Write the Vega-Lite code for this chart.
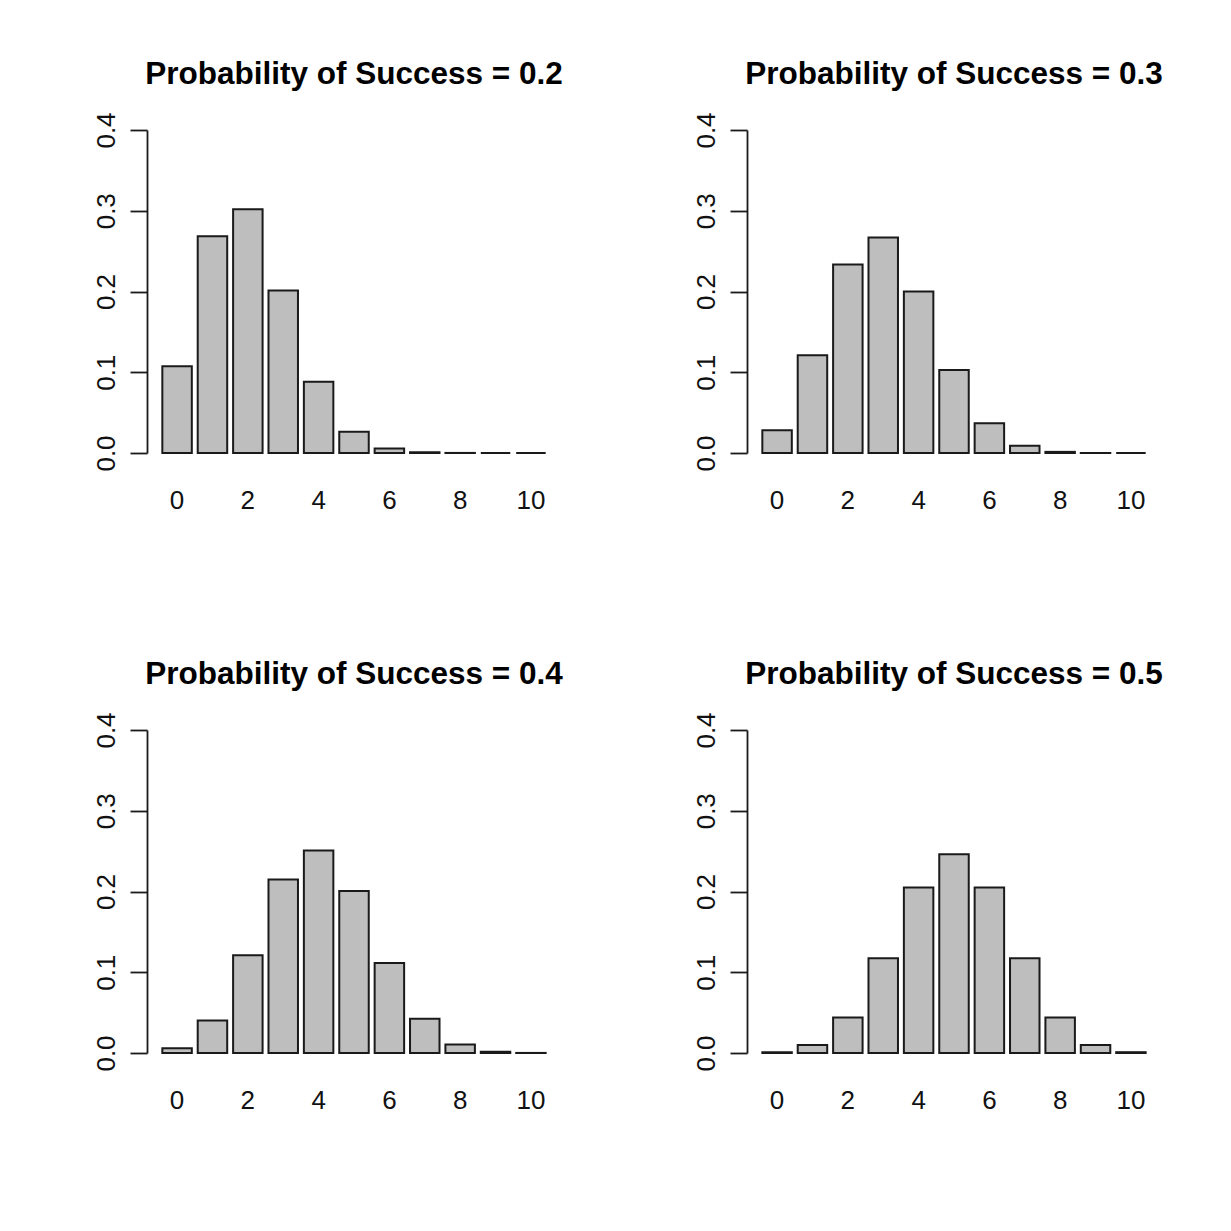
{
  "$schema": "https://vega.github.io/schema/vega-lite/v6.json",
  "background": "white",
  "padding": {"left": 92, "top": 59, "right": 10, "bottom": 10},
  "data": {"values": [
    {"title": "Probability of Success = 0.2", "k": 0, "prob": 0.1074},
    {"title": "Probability of Success = 0.2", "k": 1, "prob": 0.2684},
    {"title": "Probability of Success = 0.2", "k": 2, "prob": 0.3020},
    {"title": "Probability of Success = 0.2", "k": 3, "prob": 0.2013},
    {"title": "Probability of Success = 0.2", "k": 4, "prob": 0.0881},
    {"title": "Probability of Success = 0.2", "k": 5, "prob": 0.0264},
    {"title": "Probability of Success = 0.2", "k": 6, "prob": 0.0055},
    {"title": "Probability of Success = 0.2", "k": 7, "prob": 0.0008},
    {"title": "Probability of Success = 0.2", "k": 8, "prob": 0.0001},
    {"title": "Probability of Success = 0.2", "k": 9, "prob": 0.0},
    {"title": "Probability of Success = 0.2", "k": 10, "prob": 0.0},
    {"title": "Probability of Success = 0.3", "k": 0, "prob": 0.0282},
    {"title": "Probability of Success = 0.3", "k": 1, "prob": 0.1211},
    {"title": "Probability of Success = 0.3", "k": 2, "prob": 0.2335},
    {"title": "Probability of Success = 0.3", "k": 3, "prob": 0.2668},
    {"title": "Probability of Success = 0.3", "k": 4, "prob": 0.2001},
    {"title": "Probability of Success = 0.3", "k": 5, "prob": 0.1029},
    {"title": "Probability of Success = 0.3", "k": 6, "prob": 0.0368},
    {"title": "Probability of Success = 0.3", "k": 7, "prob": 0.0090},
    {"title": "Probability of Success = 0.3", "k": 8, "prob": 0.0014},
    {"title": "Probability of Success = 0.3", "k": 9, "prob": 0.0001},
    {"title": "Probability of Success = 0.3", "k": 10, "prob": 0.0},
    {"title": "Probability of Success = 0.4", "k": 0, "prob": 0.0060},
    {"title": "Probability of Success = 0.4", "k": 1, "prob": 0.0403},
    {"title": "Probability of Success = 0.4", "k": 2, "prob": 0.1209},
    {"title": "Probability of Success = 0.4", "k": 3, "prob": 0.2150},
    {"title": "Probability of Success = 0.4", "k": 4, "prob": 0.2508},
    {"title": "Probability of Success = 0.4", "k": 5, "prob": 0.2007},
    {"title": "Probability of Success = 0.4", "k": 6, "prob": 0.1115},
    {"title": "Probability of Success = 0.4", "k": 7, "prob": 0.0425},
    {"title": "Probability of Success = 0.4", "k": 8, "prob": 0.0106},
    {"title": "Probability of Success = 0.4", "k": 9, "prob": 0.0016},
    {"title": "Probability of Success = 0.4", "k": 10, "prob": 0.0001},
    {"title": "Probability of Success = 0.5", "k": 0, "prob": 0.0010},
    {"title": "Probability of Success = 0.5", "k": 1, "prob": 0.0098},
    {"title": "Probability of Success = 0.5", "k": 2, "prob": 0.0439},
    {"title": "Probability of Success = 0.5", "k": 3, "prob": 0.1172},
    {"title": "Probability of Success = 0.5", "k": 4, "prob": 0.2051},
    {"title": "Probability of Success = 0.5", "k": 5, "prob": 0.2461},
    {"title": "Probability of Success = 0.5", "k": 6, "prob": 0.2051},
    {"title": "Probability of Success = 0.5", "k": 7, "prob": 0.1172},
    {"title": "Probability of Success = 0.5", "k": 8, "prob": 0.0439},
    {"title": "Probability of Success = 0.5", "k": 9, "prob": 0.0098},
    {"title": "Probability of Success = 0.5", "k": 10, "prob": 0.0010}
  ]},
  "facet": {
    "field": "title",
    "type": "nominal",
    "header": {
      "title": null,
      "labelFont": "Liberation Sans",
      "labelFontSize": 31.5,
      "labelFontWeight": "bold",
      "labelColor": "black",
      "labelPadding": 21
    }
  },
  "columns": 2,
  "spacing": {"column": 186, "row": 277},
  "bounds": "flush",
  "resolve": {"axis": {"x": "independent", "y": "independent"}},
  "spec": {
    "width": 414,
    "height": 323,
    "mark": {"type": "bar", "fill": "#bebebe", "stroke": "#1a1a1a", "strokeWidth": 2},
    "encoding": {
      "x": {
        "field": "k",
        "type": "ordinal",
        "scale": {"paddingInner": 0.1667, "paddingOuter": 0.4333},
        "axis": {
          "title": null,
          "ticks": false,
          "domain": false,
          "labelAngle": 0,
          "labelExpr": "datum.value % 2 == 0 ? datum.label : ''",
          "labelFont": "Liberation Sans",
          "labelFontSize": 26,
          "labelColor": "#111111",
          "labelBaseline": "middle",
          "labelPadding": 47
        }
      },
      "y": {
        "field": "prob",
        "type": "quantitative",
        "scale": {"domain": [0, 0.4], "nice": false},
        "axis": {
          "title": null,
          "values": [0, 0.1, 0.2, 0.3, 0.4],
          "format": ".1f",
          "grid": false,
          "tickSize": 17,
          "tickColor": "#1a1a1a",
          "tickWidth": 1.8,
          "domainColor": "#1a1a1a",
          "domainWidth": 1.8,
          "labelAngle": 270,
          "labelAlign": "center",
          "labelBaseline": "alphabetic",
          "labelPadding": 16,
          "labelFlush": false,
          "labelOverlap": false,
          "labelFont": "Liberation Sans",
          "labelFontSize": 26,
          "labelColor": "#111111"
        }
      }
    }
  },
  "config": {"view": {"stroke": null}}
}
